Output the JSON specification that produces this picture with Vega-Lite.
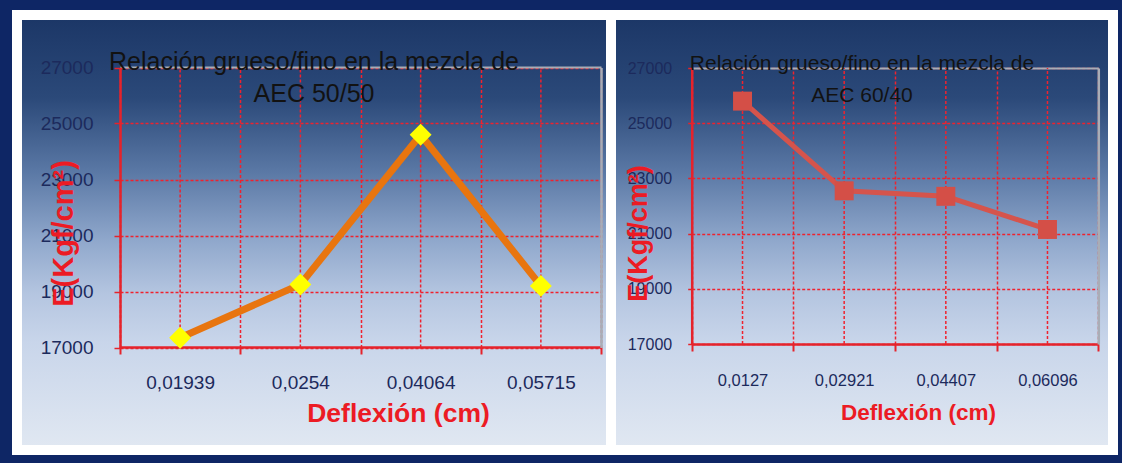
{
  "$schema": "https://vega.github.io/schema/vega-lite/v6.json",
  "background": "#0e2665",
  "padding": {"left": 12, "top": 10, "right": 4, "bottom": 8},
  "spacing": 0,
  "bounds": "flush",
  "config": {
    "font": "Liberation Sans",
    "view": {
      "fill": {
        "gradient": "linear", "x1": 0, "y1": 0, "x2": 0, "y2": 1,
        "stops": [
          {"offset": 0, "color": "#1b3666"},
          {"offset": 0.19, "color": "#2b4979"},
          {"offset": 0.36, "color": "#5a78a5"},
          {"offset": 0.52, "color": "#90a8cc"},
          {"offset": 0.64, "color": "#b4c5e0"},
          {"offset": 0.75, "color": "#c8d5ea"},
          {"offset": 1, "color": "#e1e8f2"}
        ]
      },
      "stroke": "#ffffff",
      "strokeWidth": 10
    },
    "axis": {
      "domainColor": "#e5232b",
      "domainWidth": 2.5,
      "tickColor": "#e5232b",
      "labelColor": "#1c2a5c",
      "labelFont": "Liberation Sans",
      "titleFont": "Liberation Sans",
      "titleColor": "#ec1b24",
      "titleFontWeight": "bold",
      "gridColor": "#f0222e",
      "gridDash": [3, 2],
      "gridWidth": 1.5,
      "gridOpacity": 1
    },
    "title": {
      "color": "#121212",
      "font": "Liberation Sans",
      "fontWeight": "normal",
      "anchor": "middle",
      "frame": "group",
      "baseline": "top",
      "lineHeight": 32
    }
  },
  "hconcat": [
    {
      "width": 594,
      "height": 435,
      "title": {"text": ["Relación grueso/fino en la mezcla de", "AEC 50/50"], "fontSize": 25, "offset": -92},
      "data": {"values": [
        {"deflexion": "0,01939", "E": 17350},
        {"deflexion": "0,0254", "E": 19250},
        {"deflexion": "0,04064", "E": 24600},
        {"deflexion": "0,05715", "E": 19200}
      ]},
      "layer": [
        {
          "mark": {"type": "rule", "color": "#f0222e", "strokeWidth": 1.5, "strokeDash": [3, 2]},
          "encoding": {
            "x": {
              "field": "deflexion", "type": "nominal", "sort": null,
              "scale": {"type": "band", "range": [103, 584], "paddingInner": 0, "paddingOuter": 0},
              "axis": null
            },
            "y": {
              "datum": 17000, "type": "quantitative",
              "scale": {"domain": [17000, 27000], "range": [332.5, 52.5], "nice": false, "zero": false},
              "axis": null
            },
            "y2": {"datum": 27000}
          }
        },
        {
          "mark": {"type": "line", "color": "#e8750f", "strokeWidth": 7},
          "encoding": {
            "x": {
              "field": "deflexion", "type": "nominal", "sort": null,
              "axis": {
                "orient": "bottom", "offset": -103,
                "tickBand": "extent",
                "tickSize": 7, "tickWidth": 2,
                "labelAngle": 0, "labelFontSize": 19, "labelPadding": 19,
                "grid": false,
                "title": "Deflexión (cm)",
                "titleFontSize": 26.5,
                "titleAlign": "center", "titleBaseline": "alphabetic",
                "titleX": 381, "titleY": 74
              }
            },
            "y": {
              "field": "E", "type": "quantitative",
              "axis": {
                "orient": "left", "offset": -103,
                "values": [17000, 19000, 21000, 23000, 25000, 27000],
                "format": "d",
                "tickSize": 6, "tickWidth": 1.5,
                "labelFontSize": 19, "labelPadding": 21,
                "grid": true,
                "title": "E(Kgf/cm²)",
                "titleFontSize": 29,
                "titleAngle": 270, "titleAlign": "center", "titleBaseline": "alphabetic",
                "titleX": -48, "titleY": 218
              }
            }
          }
        },
        {
          "mark": {"type": "point", "shape": "diamond", "filled": true, "color": "#ffff00", "size": 480, "opacity": 1},
          "encoding": {
            "x": {
              "field": "deflexion", "type": "nominal", "sort": null,
              "axis": {
                "orient": "top", "offset": -52,
                "tickBand": "extent",
                "grid": true,
                "domain": true, "domainColor": "#a9adb6", "domainWidth": 2,
                "ticks": false, "labels": false, "title": null
              }
            },
            "y": {
              "field": "E", "type": "quantitative",
              "axis": {
                "orient": "right", "offset": -10,
                "grid": false,
                "domain": true, "domainColor": "#a9adb6", "domainWidth": 2.5,
                "ticks": false, "labels": false, "title": null
              }
            }
          }
        }
      ],
      "resolve": {"axis": {"x": "independent", "y": "independent"}}
    },
    {
      "width": 502,
      "height": 435,
      "title": {"text": ["Relación grueso/fino en la mezcla de", "AEC 60/40"], "fontSize": 21, "offset": -91},
      "data": {"values": [
        {"deflexion": "0,0127", "E": 25800},
        {"deflexion": "0,02921", "E": 22550},
        {"deflexion": "0,04407", "E": 22350},
        {"deflexion": "0,06096", "E": 21150}
      ]},
      "layer": [
        {
          "mark": {"type": "rule", "color": "#f0222e", "strokeWidth": 1.5, "strokeDash": [3, 2]},
          "encoding": {
            "x": {
              "field": "deflexion", "type": "nominal", "sort": null,
              "scale": {"type": "band", "range": [80.7, 487.3], "paddingInner": 0, "paddingOuter": 0},
              "axis": null
            },
            "y": {
              "datum": 17000, "type": "quantitative",
              "scale": {"domain": [17000, 27000], "range": [329, 53], "nice": false, "zero": false},
              "axis": null
            },
            "y2": {"datum": 27000}
          }
        },
        {
          "mark": {"type": "line", "color": "#d5544c", "strokeWidth": 5},
          "encoding": {
            "x": {
              "field": "deflexion", "type": "nominal", "sort": null,
              "axis": {
                "orient": "bottom", "offset": -106,
                "tickBand": "extent",
                "tickSize": 7, "tickWidth": 2,
                "labelAngle": 0, "labelFontSize": 16.5, "labelPadding": 21,
                "grid": false,
                "title": "Deflexión (cm)",
                "titleFontSize": 22.5,
                "titleAlign": "center", "titleBaseline": "alphabetic",
                "titleX": 307, "titleY": 75
              }
            },
            "y": {
              "field": "E", "type": "quantitative",
              "axis": {
                "orient": "left", "offset": -80.7,
                "values": [17000, 19000, 21000, 23000, 25000, 27000],
                "format": "d",
                "tickSize": 4, "tickWidth": 1.5,
                "labelFontSize": 16, "labelPadding": 16,
                "grid": true,
                "title": "E(Kgf/cm²)",
                "titleFontSize": 27,
                "titleAngle": 270, "titleAlign": "center", "titleBaseline": "alphabetic",
                "titleX": -45.7, "titleY": 218
              }
            }
          }
        },
        {
          "mark": {"type": "point", "shape": "square", "filled": true, "color": "#d44f47", "size": 360, "opacity": 1},
          "encoding": {
            "x": {
              "field": "deflexion", "type": "nominal", "sort": null,
              "axis": {
                "orient": "top", "offset": -53,
                "tickBand": "extent",
                "grid": true,
                "domain": true, "domainColor": "#a9adb6", "domainWidth": 2,
                "ticks": false, "labels": false, "title": null
              }
            },
            "y": {
              "field": "E", "type": "quantitative",
              "axis": {
                "orient": "right", "offset": -14.7,
                "grid": false,
                "domain": true, "domainColor": "#a9adb6", "domainWidth": 2.5,
                "ticks": false, "labels": false, "title": null
              }
            }
          }
        }
      ],
      "resolve": {"axis": {"x": "independent", "y": "independent"}}
    }
  ]
}
